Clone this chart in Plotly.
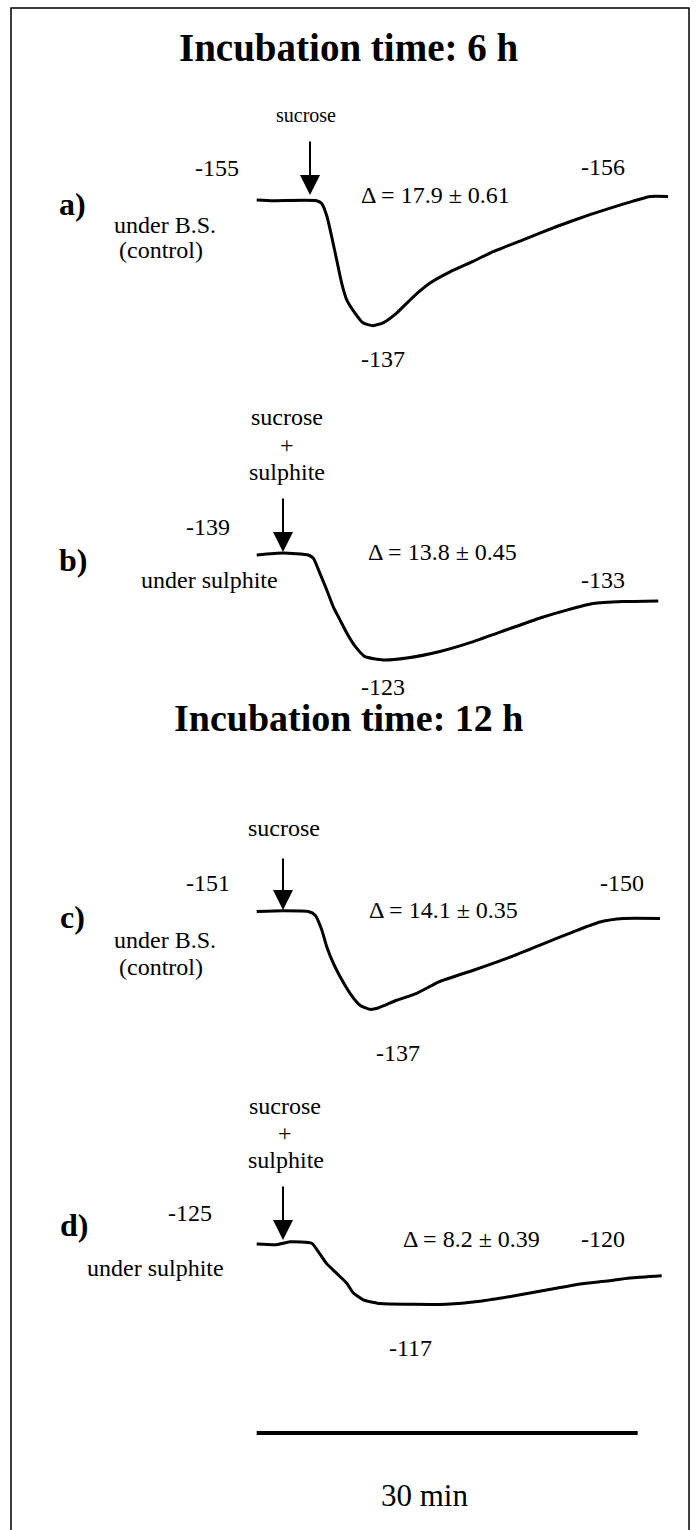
import plotly.graph_objects as go

# ---------------- data (time in min, membrane potential in mV) ----------------
a_time = [0, 1.28, 4.72, 5.12, 5.54, 5.91, 6.30, 6.69, 7.09, 7.74, 8.37, 9.16, 9.95, 11.02,
          12.31, 13.65, 15.22, 17.03, 18.37, 20.97, 23.62, 26.24, 28.84, 30.99, 32.39]
a_mv = [-155.0, -154.9, -154.9, -154.5, -152.6, -149.7, -146.4, -143.1, -140.7, -138.8, -137.4,
        -137.0, -137.4, -138.8, -141.1, -143.1, -144.7, -146.2, -147.4, -149.3, -151.2, -152.9,
        -154.4, -155.5, -155.5]

b_time = [0, 2.09, 4.06, 4.46, 4.98, 5.51, 6.03, 6.56, 7.09, 7.74, 8.53, 9.97, 11.81, 14.43,
          17.06, 19.69, 22.31, 24.41, 26.50, 28.87, 31.62]
b_mv = [-139.0, -139.3, -139.0, -138.5, -136.2, -133.7, -131.1, -129.1, -127.1, -125.1, -123.5,
        -123.0, -123.3, -124.3, -125.8, -127.6, -129.4, -130.6, -131.6, -131.9, -132.0]

c_time = [0, 2.09, 4.06, 4.59, 5.12, 5.51, 6.03, 6.56, 7.35, 8.13, 8.92, 9.57, 11.02, 12.60,
          14.43, 17.06, 19.69, 22.31, 24.93, 27.03, 28.87, 31.76]
c_mv = [-151.0, -151.1, -151.0, -150.5, -148.4, -146.0, -143.6, -141.7, -139.3, -137.6, -137.0,
        -137.2, -138.3, -139.3, -141.0, -142.6, -144.3, -146.2, -148.1, -149.5, -150.0, -150.0]

d_time = [0, 1.57, 2.62, 4.33, 4.85, 5.51, 6.30, 7.09, 7.61, 8.39, 9.71, 12.33, 14.96, 17.58,
          20.20, 22.83, 25.46, 27.56, 29.39, 31.89]
d_mv = [-125.0, -124.9, -125.3, -125.1, -124.0, -122.4, -121.1, -119.8, -118.5, -117.6, -117.1,
        -117.0, -117.0, -117.4, -118.1, -118.9, -119.7, -120.1, -120.5, -120.8]

panel_letters = ["a)", "b)", "c)", "d)"]
start_labels = ["-155", "-139", "-151", "-125"]
end_labels = ["-156", "-133", "-150", "-120"]
peak_labels = ["-137", "-123", "-137", "-117"]
delta_labels = ["\u0394 = 17.9 \u00b1 0.61", "\u0394 = 13.8 \u00b1 0.45",
                "\u0394 = 14.1 \u00b1 0.35", "\u0394 = 8.2 \u00b1 0.39"]
titles = ["Incubation time: 6 h", "Incubation time: 12 h"]
scale_minutes = 30
scale_label = "30 min"

# ---------------- layout helpers ----------------
W, H = 696, 1530
X0_PX, PX_PER_MIN = 256.7, 12.7          # t=0 pixel and horizontal scale
FONT = "Liberation Serif, Times New Roman, serif"


def P(x, y):
    return x / W, 1 - y / H


fig = go.Figure()

# panel vertical mapping: (baseline pixel, baseline mV, px per mV)
panel_map = [(200, -155, 6.98), (555, -139, 6.56), (911.5, -151, 6.99), (1244, -125, 7.54)]
series = [(a_time, a_mv), (b_time, b_mv), (c_time, c_mv), (d_time, d_mv)]

layout_axes = {}
for i, ((pb, vb, k), (t, v)) in enumerate(zip(panel_map, series)):
    top_px, bot_px = pb - 60, pb + 140
    v_top = vb - 60 / k
    v_bot = vb + 140 / k
    name = "yaxis" if i == 0 else f"yaxis{i + 1}"
    layout_axes[name] = dict(domain=[1 - bot_px / H, 1 - top_px / H], range=[v_bot, v_top],
                             visible=False, fixedrange=True)
    fig.add_trace(go.Scatter(x=t, y=v, mode="lines", yaxis="y" if i == 0 else f"y{i + 1}",
                             line=dict(color="black", width=3, shape="spline", smoothing=0.5),
                             showlegend=False, hoverinfo="skip"))

x_left = (0 - X0_PX) / PX_PER_MIN
x_right = (W - X0_PX) / PX_PER_MIN

annotations = []


def text(s, x, y, size=24, bold=False):
    xx, yy = P(x, y)
    annotations.append(dict(x=xx, y=yy, xref="paper", yref="paper", text=f"<b>{s}</b>" if bold else s,
                            showarrow=False, xanchor="center", yanchor="middle",
                            font=dict(family=FONT, size=size, color="black")))


def arrow(x, y_tail, y_tip):
    xx, yy = P(x, y_tip)
    annotations.append(dict(x=xx, y=yy, xref="paper", yref="paper", text="", showarrow=True,
                            ax=0, ay=-(y_tip - y_tail), axref="pixel", ayref="pixel",
                            arrowhead=2, arrowsize=2, arrowwidth=2, arrowcolor="black", standoff=0))


# titles
text(titles[0], 348, 47, size=39, bold=True)
text(titles[1], 348, 718, size=38, bold=True)

# panel a
text("sucrose", 306, 115, size=20)
arrow(310, 140, 195)
text(start_labels[0], 217, 168)
text(panel_letters[0], 72, 204, size=32, bold=True)
text("under B.S.", 165, 225)
text("(control)", 161, 250)
text(delta_labels[0], 436, 195)
text(end_labels[0], 603, 167)
text(peak_labels[0], 383, 359)

# panel b
text("sucrose", 287, 417)
text("+", 287, 445)
text("sulphite", 287, 472)
arrow(283, 497, 552)
text(start_labels[1], 208, 527)
text(panel_letters[1], 73, 560, size=32, bold=True)
text("under sulphite", 209, 580)
text(delta_labels[1], 442, 552)
text(end_labels[1], 603, 580)
text(peak_labels[1], 383, 687)

# panel c
text("sucrose", 284, 828)
arrow(283, 857, 910)
text(start_labels[2], 208, 883)
text(panel_letters[2], 72, 917, size=32, bold=True)
text("under B.S.", 165, 940)
text("(control)", 161, 967)
text(delta_labels[2], 443, 910)
text(end_labels[2], 622, 883)
text(peak_labels[2], 398, 1053)

# panel d
text("sucrose", 285, 1106)
text("+", 285, 1133)
text("sulphite", 286, 1160)
arrow(283, 1185, 1240)
text(start_labels[3], 190, 1213)
text(panel_letters[3], 74, 1225, size=32, bold=True)
text("under sulphite", 155, 1268)
text(delta_labels[3], 471, 1239)
text(end_labels[3], 603, 1239)
text(peak_labels[3], 410, 1348)

# scale bar
text(scale_label, 424, 1495, size=31)

shapes = [
    dict(type="line", xref="x", yref="paper", x0=0, x1=scale_minutes,
         y0=1 - 1433 / H, y1=1 - 1433 / H, line=dict(color="black", width=4)),
    dict(type="rect", xref="paper", yref="paper", x0=11 / W, x1=689 / W, y0=-0.01, y1=1 - 8 / H,
         line=dict(color="black", width=1.5)),
]

fig.update_layout(
    width=W, height=H, margin=dict(l=0, r=0, t=0, b=0),
    paper_bgcolor="white", plot_bgcolor="white",
    xaxis=dict(range=[x_left, x_right], domain=[0, 1], visible=False, fixedrange=True),
    annotations=annotations, shapes=shapes, showlegend=False,
    **layout_axes,
)

fig.write_html("out.html", config={"displayModeBar": False},
               post_script="document.body.style.margin='0';document.body.style.overflow='hidden';")
